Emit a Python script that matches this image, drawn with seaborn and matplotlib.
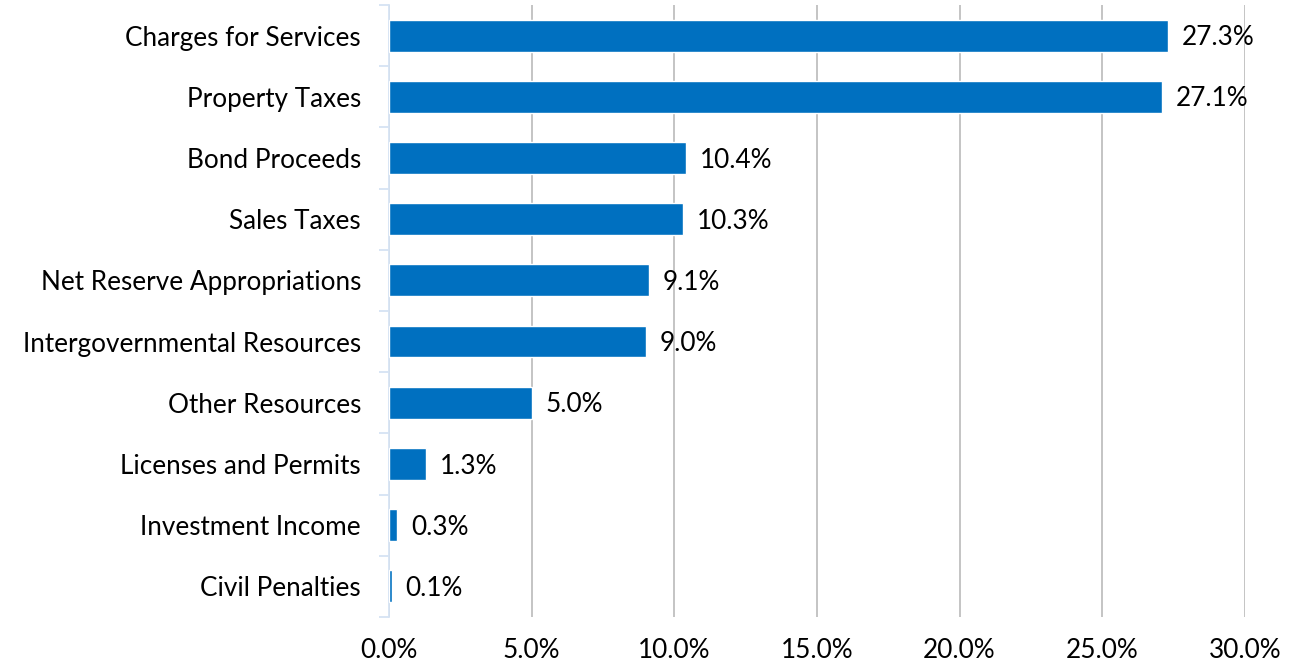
import matplotlib
matplotlib.use('Agg')
import matplotlib.pyplot as plt
import seaborn as sns
import pandas as pd
from matplotlib.ticker import FixedLocator

# chart data
categories = ['Charges for Services', 'Property Taxes', 'Bond Proceeds', 'Sales Taxes',
              'Net Reserve Appropriations', 'Intergovernmental Resources', 'Other Resources',
              'Licenses and Permits', 'Investment Income', 'Civil Penalties']
shares = [27.3, 27.1, 10.4, 10.3, 9.1, 9.0, 5.0, 1.3, 0.3, 0.1]
x_ticks = [0, 5, 10, 15, 20, 25, 30]

df = pd.DataFrame({'category': categories, 'share': shares})

sns.set_style('white')
plt.rcParams['font.family'] = ['Lato', 'DejaVu Sans']
fs = 18.8

fig = plt.figure(figsize=(12.92, 6.72), dpi=100)
ax = fig.add_axes([0.301, 0.082, 0.6625, 0.9105])

sns.barplot(data=df, x='share', y='category', orient='h', color='#0070C0',
            width=0.52, saturation=1, ax=ax, zorder=3)

ax.set_xlim(0, 30)
ax.set_ylim(len(categories) - 0.5, -0.5)
ax.set_xticks(x_ticks)
ax.set_xticklabels([f'{t:.1f}%' for t in x_ticks], fontsize=fs, color='#000000')
ax.tick_params(axis='x', length=0, pad=15)
ax.xaxis.grid(True, color='#BFBFBF', linewidth=1.3, zorder=0)
ax.set_axisbelow(True)

ax.set_yticks(range(len(categories)))
ax.set_yticklabels(categories, fontsize=fs, color='#000000')
ax.tick_params(axis='y', which='major', length=0, pad=20)
ax.yaxis.set_minor_locator(FixedLocator([i - 0.5 for i in range(len(categories) + 1)]))
ax.tick_params(axis='y', which='minor', length=7, color='#D6E3F3', width=1.3, left=True)

for side in ['top', 'right', 'bottom']:
    ax.spines[side].set_visible(False)
ax.spines['left'].set_color('#D6E3F3')
ax.spines['left'].set_linewidth(1.3)

ax.set_xlabel('')
ax.set_ylabel('')

for i, v in enumerate(shares):
    ax.annotate(f'{v:.1f}%', xy=(v, i), xytext=(10, -1.5), textcoords='offset points',
                va='center', ha='left', fontsize=fs, color='#000000')

fig.savefig('out.png', dpi=100)
